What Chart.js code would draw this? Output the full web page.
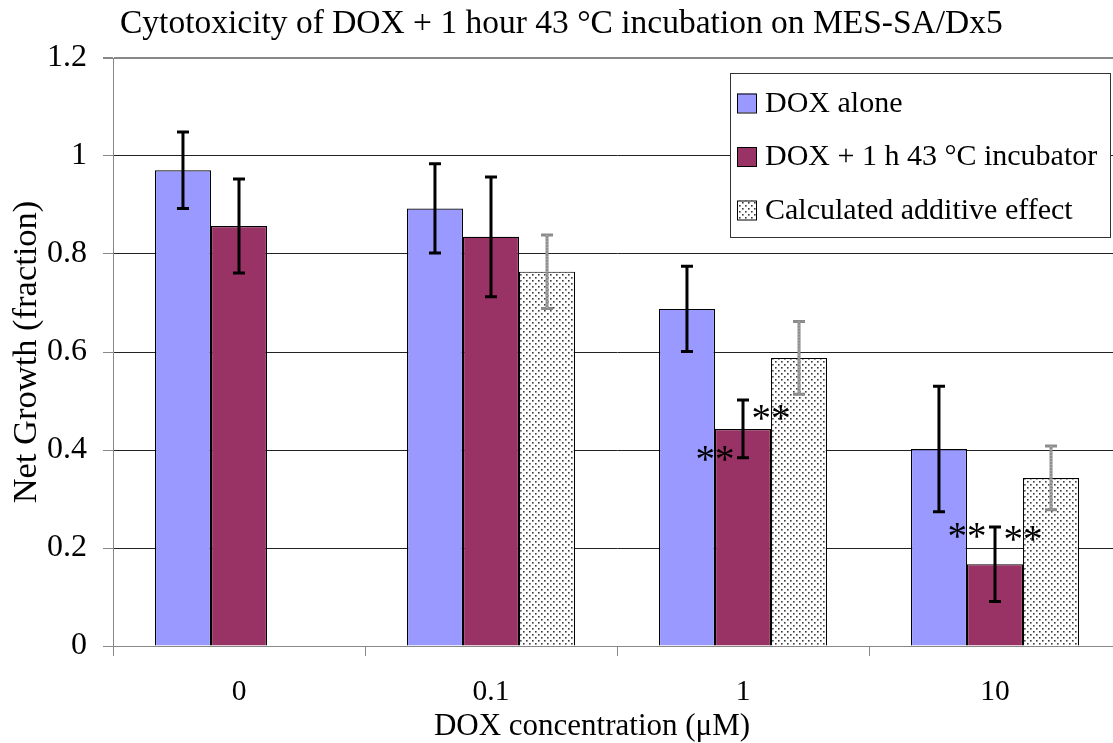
<!DOCTYPE html>
<html>
<head>
<meta charset="utf-8">
<script src="https://cdn.jsdelivr.net/npm/chart.js@4.4.0/dist/chart.umd.min.js"></script>
<style>
html,body{margin:0;padding:0;background:#fff;overflow:hidden;}
#wrap{width:1113px;height:743px;position:relative;overflow:hidden;}
#c{position:absolute;left:0;top:0;}
</style>
</head>
<body>
<div id="wrap"><canvas id="c" width="1121" height="743"></canvas></div>
<script>
// ---- data ----
const categories = ['0', '0.1', '1', '10'];
const seriesNames = ['DOX alone', 'DOX + 1 h 43 \u00B0C incubator', 'Calculated additive effect'];
const doxAlone = [0.971, 0.893, 0.688, 0.402];
const doxAloneErr = [0.078, 0.091, 0.087, 0.128];
const doxHeat = [0.857, 0.835, 0.443, 0.167];
const doxHeatErr = [0.096, 0.122, 0.059, 0.076];
const additive = [null, 0.764, 0.588, 0.343];
const additiveErr = [null, 0.075, 0.074, 0.065];
const yTicks = [0, 0.2, 0.4, 0.6, 0.8, 1, 1.2];
const titleText = 'Cytotoxicity of DOX + 1 hour 43 \u00B0C incubation on MES-SA/Dx5';
const xTitle = 'DOX concentration (\u03BCM)';
const yTitle = 'Net Growth (fraction)';
// significance marks on the heated series: category index, side, level
const sigCats = [2, 2, 3, 3];
const sigSides = [-1, 1, -1, 1];
const sigLevels = [0.39, 0.473, 0.233, 0.227];
const sigLabel = '**';

const FONT = "'Liberation Serif', 'Times New Roman', serif";

function makeDots() {
  const p = document.createElement('canvas');
  p.width = 6; p.height = 6;
  const g = p.getContext('2d');
  g.fillStyle = '#ffffff'; g.fillRect(0, 0, 6, 6);
  g.fillStyle = '#3a3a3a';
  g.fillRect(1, 1, 1.6, 1.6);
  g.fillRect(4, 4, 1.6, 1.6);
  return document.getElementById('c').getContext('2d').createPattern(p, 'repeat');
}
const dotPattern = makeDots();
const colors = ['#9999FF', '#993366', dotPattern];
const errs = [doxAloneErr, doxHeatErr, additiveErr];
const errColors = ['#000000', '#000000', '#8c8c8c'];

const extras = {
  id: 'extras',
  afterDatasetsDraw(chart) {
    const ctx = chart.ctx;
    const ys = chart.scales.y;
    chart.data.datasets.forEach((ds, i) => {
      const meta = chart.getDatasetMeta(i);
      meta.data.forEach((bar, j) => {
        const v = ds.data[j];
        const e = errs[i][j];
        if (v == null || e == null) return;
        const top = ys.getPixelForValue(v + e);
        const bot = ys.getPixelForValue(v - e);
        ctx.save();
        ctx.strokeStyle = errColors[i];
        ctx.lineWidth = 3;
        ctx.beginPath();
        ctx.moveTo(bar.x, top); ctx.lineTo(bar.x, bot);
        ctx.moveTo(bar.x - 6, top); ctx.lineTo(bar.x + 6, top);
        ctx.moveTo(bar.x - 6, bot); ctx.lineTo(bar.x + 6, bot);
        ctx.stroke();
        if (i === 2) {
          ctx.strokeStyle = '#cfcfcf';
          ctx.lineWidth = 1;
          ctx.setLineDash([1, 2]);
          ctx.beginPath();
          ctx.moveTo(bar.x, top); ctx.lineTo(bar.x, bot);
          ctx.stroke();
        }
        ctx.restore();
      });
    });
    // significance marks
    const hm = chart.getDatasetMeta(1);
    ctx.save();
    ctx.fillStyle = '#000';
    ctx.font = '39px ' + FONT;
    ctx.textAlign = 'center';
    ctx.textBaseline = 'alphabetic';
    sigCats.forEach((c, k) => {
      const bar = hm.data[c];
      const x = bar.x + sigSides[k] * bar.width / 2;
      const y = ys.getPixelForValue(sigLevels[k]);
      ctx.fillText(sigLabel, x, y + 17);
    });
    ctx.restore();
  },
  afterDraw(chart) {
    const ctx = chart.ctx;
    ctx.save();
    ctx.fillStyle = '#000';
    // title
    ctx.font = '33.5px ' + FONT;
    ctx.textAlign = 'left';
    ctx.textBaseline = 'alphabetic';
    ctx.fillText(titleText, 120, 33);
    // x title
    ctx.font = '31px ' + FONT;
    ctx.textAlign = 'center';
    ctx.textBaseline = 'alphabetic';
    ctx.fillText(xTitle, 592, 735);
    // y title
    ctx.save();
    ctx.translate(27, 352);
    ctx.rotate(-Math.PI / 2);
    ctx.textBaseline = 'middle';
    ctx.font = '34.5px ' + FONT;
    ctx.fillText(yTitle, 0, 0);
    ctx.restore();
    // legend
    const lx = 730, ly = 73, lw = 380, lh = 164;
    ctx.fillStyle = '#fff';
    ctx.fillRect(lx, ly, lw, lh);
    ctx.strokeStyle = '#333';
    ctx.lineWidth = 1;
    ctx.strokeRect(lx + 0.5, ly + 0.5, lw, lh);
    ctx.font = '30px ' + FONT;
    ctx.textAlign = 'left';
    ctx.textBaseline = 'middle';
    seriesNames.forEach((n, i) => {
      const cy = 103 + i * 53.5;
      ctx.fillStyle = colors[i];
      ctx.fillRect(737, cy - 9.5, 19, 19);
      ctx.strokeStyle = '#000';
      ctx.strokeRect(737.5, cy - 9, 19, 19);
      ctx.fillStyle = '#000';
      ctx.fillText(n, 765, cy + 1);
    });
    ctx.restore();
  }
};

new Chart(document.getElementById('c'), {
  type: 'bar',
  data: {
    labels: categories,
    datasets: seriesNames.map((n, i) => ({
      label: n,
      data: [doxAlone, doxHeat, additive][i],
      backgroundColor: colors[i],
      borderColor: '#000',
      borderWidth: 1.2,
      categoryPercentage: 0.667,
      barPercentage: 1.0
    }))
  },
  options: {
    responsive: false,
    animation: false,
    devicePixelRatio: 1,
    layout: { padding: { top: 58, left: 0, right: 0, bottom: 0 } },
    plugins: { legend: { display: false }, title: { display: false }, tooltip: { enabled: false } },
    scales: {
      x: {
        offset: true,
        grid: { offset: true, drawOnChartArea: false, drawTicks: true, tickLength: 10, color: '#888' },
        border: { color: '#888', width: 1 },
        ticks: { color: '#000', font: { family: FONT, size: 29.5 }, padding: 19 },
        afterFit: s => { s.height = 97; }
      },
      y: {
        min: 0, max: 1.2,
        afterBuildTicks: s => { s.ticks = yTicks.map(v => ({ value: v })); },
        grid: {
          color: c => (c.tick && c.tick.value === 1.2) ? '#888' : '#222',
          lineWidth: c => (c.tick && c.tick.value === 1.2) ? 2 : 1,
          tickLength: 10,
          tickColor: '#888'
        },
        border: { color: '#888', width: 1 },
        ticks: { color: '#000', font: { family: FONT, size: 32 }, padding: 16,
          callback: v => String(v) },
        afterFit: s => { s.width = 113; }
      }
    }
  },
  plugins: [extras]
});
</script>
</body>
</html>
